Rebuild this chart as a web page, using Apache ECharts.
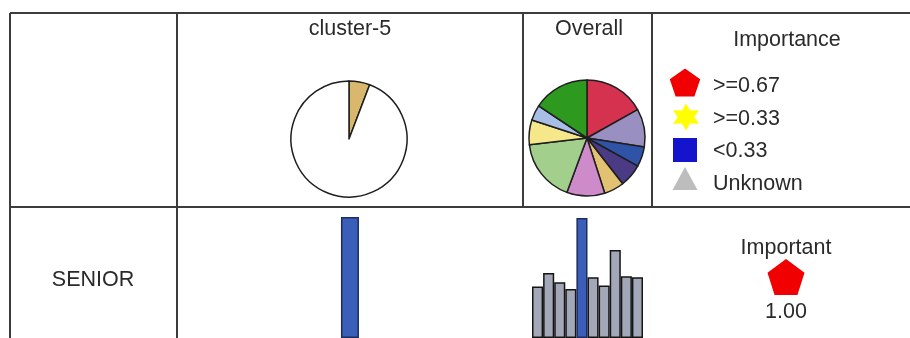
<!DOCTYPE html>
<html>
<head>
<meta charset="utf-8">
<script src="https://cdn.jsdelivr.net/npm/echarts@6/dist/echarts.min.js"></script>
<style>
html,body{margin:0;padding:0;background:#fff;}
#chart{width:910px;height:338px;}
</style>
</head>
<body>
<div id="chart"></div>
<script>
// ---- data ----
const columnHeaders = ['cluster-5', 'Overall'];
const rowLabel = 'SENIOR';
const categories = ['1', '2', '3', '4', '5', '6', '7', '8', '9', '10'];
const overallPie = [16.9, 10.6, 5.6, 6.4, 5.6, 10.6, 17.5, 6.9, 4.3, 15.7];
const clusterShare = [5.8, 94.2];
const overallBars = [61, 77, 66, 58, 142, 72, 62, 104, 73, 72];
const clusterBars = [0, 0, 0, 0, 100, 0, 0, 0, 0, 0];
const legendTitle = 'Importance';
const legendLabels = ['>=0.67', '>=0.33', '<0.33', 'Unknown'];
const importanceLabel = 'Important';
const importanceValue = [1.00];

// ---- styles ----
const pieColors = ['#d5324f', '#9a8fc1', '#2f53a6', '#4a3b84', '#e2c172', '#cd8bca', '#a2cf8b', '#f6e78b', '#a9bee7', '#2d9a1f'];
const clusterColors = ['#d9b76c', '#ffffff'];
const FONT = 'Arial, "Liberation Sans", sans-serif';
const TXT = '#2a2a2a';
const LINE = '#3c3c3c';
const FS = 21.5;

const chart = echarts.init(document.getElementById('chart'), null, {renderer: 'canvas'});

function poly(cx, cy, pts, sx, sy) {
  return pts.map(p => [cx + p[0] * sx, cy + p[1] * sy]);
}
const pent = [];
for (let i = 0; i < 5; i++) {
  const a = -Math.PI / 2 + i * 2 * Math.PI / 5;
  pent.push([Math.cos(a), Math.sin(a)]);
}
const star = [];
for (let i = 0; i < 12; i++) {
  const a = -Math.PI / 2 + i * Math.PI / 6;
  const r = i % 2 === 0 ? 1 : 0.55;
  star.push([Math.cos(a) * r, Math.sin(a) * r]);
}
const pentPath = 'path://M0,-1 L0.951,-0.309 L0.588,0.809 L-0.588,0.809 L-0.951,-0.309 Z';

function line(x1, y1, x2, y2) {
  return {type: 'line', shape: {x1, y1, x2, y2}, style: {stroke: LINE, lineWidth: 2}, silent: true};
}
function text(t, x, y, align) {
  return {type: 'text', x, y, silent: true,
    style: {text: t, fontSize: FS, fontFamily: FONT, fill: TXT, align: align || 'center', verticalAlign: 'middle'}};
}

const legendY = [86, 119, 151, 184];
const graphics = [
  line(10, 13, 910, 13),
  line(10, 207, 910, 207),
  line(10, 13, 10, 338),
  line(177, 13, 177, 338),
  line(523, 13, 523, 207),
  line(652, 13, 652, 207),
  text(columnHeaders[0], 350, 29),
  text(columnHeaders[1], 589, 29),
  text(legendTitle, 787, 40),
  text(rowLabel, 93, 280),
  text(importanceLabel, 786, 248),
  {type: 'polygon', shape: {points: poly(685, 84, pent, 16, 15.5)}, style: {fill: '#f00000'}, silent: true},
  {type: 'polygon', shape: {points: poly(686, 117, star, 15, 13.5)}, style: {fill: '#ffff00'}, silent: true},
  {type: 'rect', shape: {x: 673, y: 138, width: 24, height: 24}, style: {fill: '#1414cc'}, silent: true},
  {type: 'polygon', shape: {points: [[685, 167], [697.5, 190], [672.5, 190]]}, style: {fill: '#bdbdbd'}, silent: true}
];
legendLabels.forEach((l, i) => graphics.push(text(l, 713, legendY[i], 'left')));

const option = {
  animation: false,
  backgroundColor: '#ffffff',
  graphic: graphics,
  grid: [
    {left: 300, width: 111, top: 217, bottom: -22},
    {left: 532, width: 111, top: 218, bottom: -22},
    {left: 766, width: 40, top: 259, height: 36}
  ],
  xAxis: [
    {gridIndex: 0, type: 'category', data: categories, show: false},
    {gridIndex: 1, type: 'category', data: categories, show: false},
    {gridIndex: 2, type: 'category', data: [importanceLabel], show: false}
  ],
  yAxis: [
    {gridIndex: 0, type: 'value', min: 0, max: 'dataMax', show: false},
    {gridIndex: 1, type: 'value', min: 0, max: 'dataMax', show: false},
    {gridIndex: 2, type: 'value', min: -1, max: 1, show: false}
  ],
  series: [
    {
      type: 'pie', center: [349, 139], radius: 58, startAngle: 90, clockwise: true,
      silent: true, label: {show: false}, labelLine: {show: false},
      itemStyle: {borderColor: '#1e1e1e', borderWidth: 1.5},
      data: clusterShare.map((v, i) => ({value: v, itemStyle: {color: clusterColors[i]}}))
    },
    {
      type: 'pie', center: [587, 138], radius: 58, startAngle: 90, clockwise: true,
      silent: true, label: {show: false}, labelLine: {show: false},
      itemStyle: {borderColor: '#1e1e1e', borderWidth: 1.5},
      data: overallPie.map((v, i) => ({value: v, itemStyle: {color: pieColors[i]}}))
    },
    {
      type: 'bar', xAxisIndex: 0, yAxisIndex: 0, barWidth: 18, silent: true,
      data: clusterBars.map(v => ({value: v, itemStyle: v > 0 ? {} : {borderWidth: 0}})),
      itemStyle: {color: '#3b5fb8', borderColor: '#1c2c5e', borderWidth: 1.5}
    },
    {
      type: 'bar', xAxisIndex: 1, yAxisIndex: 1, barCategoryGap: '0%', silent: true,
      data: overallBars.map((v, i) => ({value: v, itemStyle: i === 4 ? {color: '#3b5fb8', borderColor: '#1c2c5e'} : {}})),
      itemStyle: {color: '#a2a8b7', borderColor: '#151515', borderWidth: 1.5}
    },
    {
      type: 'scatter', xAxisIndex: 2, yAxisIndex: 2, silent: true,
      symbol: pentPath, symbolSize: [37, 36],
      itemStyle: {color: '#f00000', opacity: 1},
      data: importanceValue.map(v => [0, 0, v]),
      label: {show: true, position: 'bottom', distance: 6, fontSize: FS, fontFamily: FONT, color: TXT, opacity: 1,
        formatter: p => p.value[2].toFixed(2)}
    }
  ]
};
chart.setOption(option);
</script>
</body>
</html>
